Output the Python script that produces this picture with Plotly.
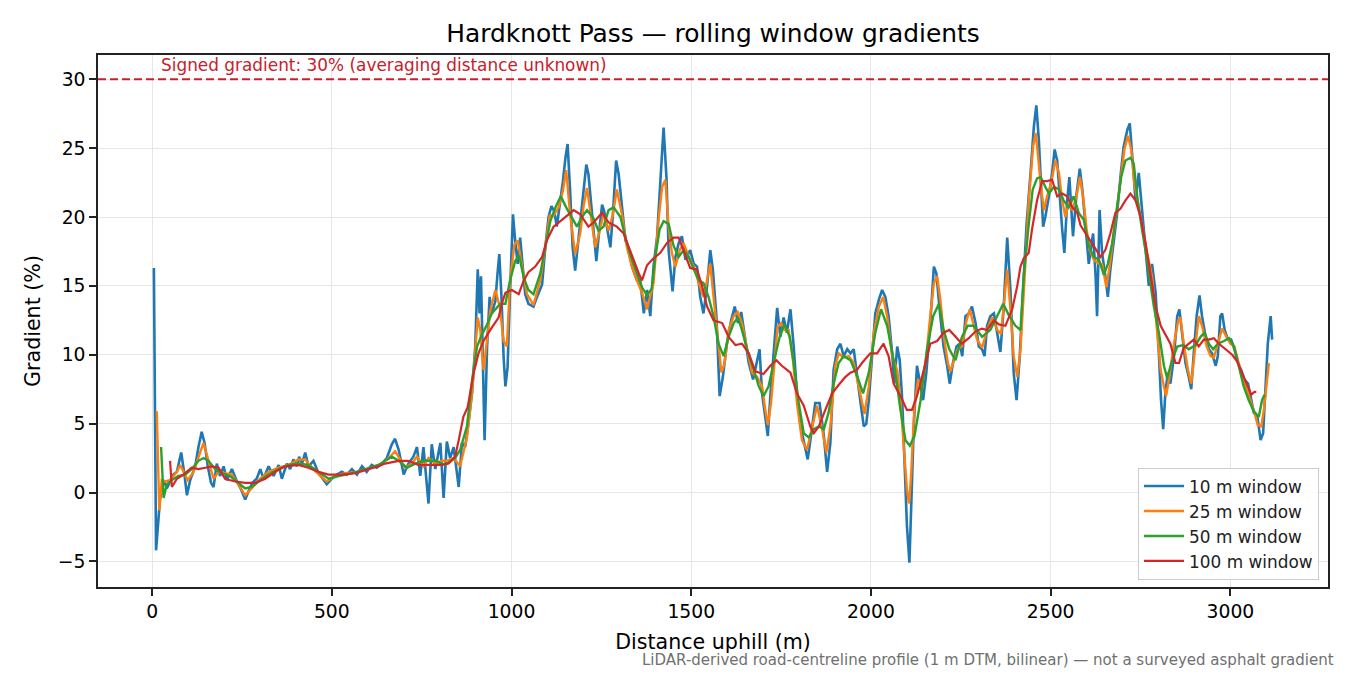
import plotly.graph_objects as go

# Hardknott Pass rolling-window gradient profiles
dist_10 = [5, 11, 22, 32, 41, 50, 59, 69, 81, 90, 97, 106, 120, 129, 138, 146, 155, 164, 171, 180,
           189, 199, 208, 222, 236, 248, 259, 270, 279, 291, 301, 310, 324, 338, 352, 361, 375, 384, 393, 403,
           409, 417, 426, 435, 449, 463, 477, 486, 500, 514, 528, 542, 556, 570, 584, 597, 611, 625, 639, 653,
           667, 676, 686, 700, 713, 727, 737, 746, 755, 769, 778, 788, 802, 811, 820, 829, 839, 853, 862, 871,
           880, 890, 899, 906, 911, 915, 920, 925, 932, 939, 945, 955, 961, 966, 972, 978, 983, 989, 996, 1004,
           1010, 1017, 1024, 1031, 1038, 1047, 1061, 1071, 1085, 1094, 1103, 1111, 1119, 1126, 1134, 1143, 1150, 1156, 1163, 1170,
           1177, 1184, 1191, 1199, 1208, 1214, 1224, 1230, 1236, 1242, 1252, 1258, 1266, 1275, 1282, 1291, 1298, 1307, 1317, 1326,
           1335, 1349, 1358, 1368, 1377, 1386, 1395, 1405, 1414, 1423, 1431, 1437, 1448, 1456, 1465, 1474, 1484, 1497, 1507, 1516,
           1525, 1534, 1544, 1553, 1560, 1570, 1579, 1588, 1599, 1611, 1621, 1630, 1639, 1649, 1660, 1672, 1678, 1690, 1697, 1703,
           1713, 1720, 1729, 1739, 1748, 1757, 1766, 1776, 1785, 1794, 1804, 1815, 1824, 1833, 1845, 1857, 1869, 1878, 1887, 1896,
           1906, 1915, 1924, 1934, 1943, 1952, 1961, 1971, 1980, 1987, 1994, 2003, 2012, 2022, 2031, 2040, 2049, 2059, 2065, 2073,
           2080, 2087, 2094, 2100, 2107, 2112, 2119, 2128, 2138, 2145, 2154, 2165, 2175, 2182, 2191, 2202, 2212, 2219, 2228, 2238,
           2247, 2254, 2263, 2272, 2281, 2291, 2300, 2309, 2316, 2323, 2332, 2342, 2351, 2360, 2369, 2379, 2388, 2397, 2405, 2414,
           2423, 2433, 2444, 2453, 2460, 2467, 2473, 2479, 2485, 2495, 2504, 2511, 2518, 2525, 2532, 2538, 2546, 2552, 2558, 2562,
           2572, 2581, 2588, 2597, 2606, 2613, 2618, 2625, 2629, 2636, 2643, 2652, 2659, 2666, 2676, 2685, 2694, 2703, 2713, 2720,
           2727, 2736, 2745, 2754, 2764, 2773, 2782, 2792, 2801, 2807, 2813, 2819, 2826, 2833, 2843, 2852, 2858, 2866, 2875, 2884,
           2891, 2898, 2906, 2914, 2921, 2931, 2940, 2949, 2959, 2965, 2972, 2977, 2984, 2993, 3002, 3011, 3021, 3030, 3039, 3049,
           3056, 3065, 3075, 3084, 3091, 3098, 3104, 3112, 3116]
grad_10 = [16.3, -4.2, -0.5, 0.9, 0.3, 0.8, 1.3, 1.5, 2.9, 1.3, -0.2, 0.9, 1.9, 3.3, 4.4, 3.6, 1.9, 0.7, 0.4, 2.1,
           1.2, 1.9, 0.9, 1.7, 0.8, 0.2, -0.5, 0.2, 0.7, 1.0, 1.7, 1.0, 1.9, 1.2, 2.0, 1.0, 2.1, 1.7, 2.4, 1.9,
           2.6, 2.1, 2.9, 1.9, 2.3, 1.4, 0.9, 0.6, 1.0, 1.3, 1.5, 1.3, 1.7, 1.3, 1.9, 1.5, 2.0, 1.8, 2.1, 2.5,
           3.5, 3.9, 3.1, 1.3, 2.1, 2.6, 3.3, 1.2, 3.3, -0.8, 3.5, 1.7, 3.6, -0.4, 3.7, 2.5, 3.3, 0.4, 3.6, 3.3,
           5.0, 7.2, 10.6, 16.2, 13.0, 15.7, 9.8, 3.8, 10.6, 14.2, 13.0, 13.9, 15.9, 17.3, 14.2, 9.8, 7.7, 9.1, 14.7, 20.2,
           18.3, 16.6, 18.5, 16.4, 14.4, 13.7, 13.5, 14.2, 15.1, 17.8, 20.0, 20.8, 20.4, 19.3, 20.7, 22.6, 24.3, 25.3, 21.9, 17.8,
           16.1, 17.8, 19.5, 21.4, 23.8, 23.1, 20.0, 18.3, 16.8, 18.5, 20.9, 20.4, 19.3, 17.8, 20.2, 24.1, 23.1, 20.7, 18.3, 17.6,
           16.4, 15.4, 15.4, 13.0, 14.7, 12.8, 16.4, 18.6, 22.9, 26.5, 22.9, 17.6, 14.6, 17.1, 18.1, 18.6, 16.9, 17.6, 16.6, 16.4,
           14.2, 13.0, 15.0, 17.6, 16.2, 12.8, 7.0, 8.4, 10.8, 12.5, 13.5, 12.3, 13.1, 11.3, 9.4, 8.2, 8.9, 10.4, 7.2, 6.0,
           4.1, 7.0, 10.4, 13.4, 11.3, 12.7, 11.6, 13.3, 10.6, 7.2, 4.8, 3.4, 2.4, 4.1, 6.5, 6.5, 4.1, 1.5, 3.6, 8.9,
           10.4, 10.8, 9.9, 10.4, 10.1, 10.4, 8.4, 6.5, 4.8, 5.0, 6.7, 10.1, 13.0, 14.0, 14.7, 14.2, 12.8, 10.1, 7.9, 10.6,
           9.6, 6.7, 1.9, -2.4, -5.1, -1.2, 4.8, 9.2, 7.7, 6.7, 8.7, 12.3, 16.4, 15.9, 13.3, 10.6, 9.2, 7.9, 9.4, 10.6,
           10.8, 9.9, 12.8, 13.0, 13.5, 12.3, 10.6, 10.4, 9.9, 12.1, 12.8, 13.0, 11.6, 10.2, 13.3, 18.5, 14.7, 8.7, 6.7, 9.9,
           14.7, 19.5, 23.2, 26.5, 28.1, 25.6, 22.4, 19.3, 20.0, 21.5, 23.2, 24.9, 24.1, 21.2, 19.1, 17.4, 21.2, 22.9, 20.0, 18.6,
           21.7, 23.5, 22.0, 19.1, 16.6, 17.9, 18.8, 15.7, 12.8, 20.5, 17.4, 15.7, 14.2, 16.2, 18.3, 20.3, 22.9, 25.1, 26.3, 26.8,
           24.4, 21.2, 23.2, 20.7, 17.5, 15.0, 16.6, 14.5, 10.1, 6.7, 4.6, 7.2, 8.7, 7.9, 9.9, 12.8, 13.3, 11.3, 9.4, 8.4,
           7.5, 10.1, 12.8, 14.3, 12.8, 11.3, 10.4, 10.1, 9.2, 9.9, 12.8, 13.0, 11.8, 11.1, 11.1, 10.4, 9.4, 8.9, 8.2, 7.9,
           7.0, 5.8, 5.5, 3.8, 4.3, 7.7, 10.8, 12.8, 11.1]

dist_25 = [13, 20, 27, 36, 50, 69, 78, 87, 99, 115, 129, 143, 157, 171, 185, 203, 222, 240, 259, 277,
           301, 324, 352, 379, 407, 426, 444, 468, 486, 509, 537, 574, 611, 639, 662, 676, 690, 704, 723, 737,
           755, 769, 788, 806, 820, 839, 857, 876, 890, 899, 906, 913, 922, 932, 941, 955, 967, 978, 987, 996,
           1008, 1017, 1029, 1043, 1061, 1080, 1094, 1106, 1117, 1131, 1143, 1152, 1163, 1177, 1191, 1201, 1210, 1221, 1233, 1245,
           1256, 1270, 1282, 1293, 1307, 1321, 1335, 1349, 1363, 1377, 1395, 1409, 1419, 1428, 1437, 1446, 1456, 1468, 1479, 1493,
           1507, 1521, 1534, 1544, 1553, 1562, 1573, 1584, 1593, 1604, 1618, 1629, 1641, 1655, 1669, 1683, 1697, 1706, 1713, 1722,
           1731, 1740, 1750, 1759, 1771, 1783, 1794, 1808, 1822, 1836, 1850, 1864, 1876, 1887, 1901, 1910, 1924, 1938, 1952, 1966,
           1982, 1994, 2008, 2022, 2034, 2045, 2059, 2073, 2082, 2091, 2100, 2106, 2112, 2121, 2131, 2142, 2154, 2165, 2175, 2184,
           2193, 2204, 2214, 2221, 2230, 2241, 2253, 2266, 2275, 2284, 2295, 2309, 2323, 2337, 2351, 2362, 2371, 2379, 2388, 2397,
           2407, 2416, 2427, 2439, 2451, 2458, 2465, 2472, 2481, 2490, 2501, 2513, 2523, 2532, 2541, 2550, 2560, 2572, 2581, 2590,
           2600, 2609, 2620, 2634, 2643, 2655, 2665, 2676, 2687, 2696, 2705, 2715, 2724, 2733, 2742, 2754, 2768, 2782, 2794, 2806,
           2815, 2821, 2829, 2843, 2855, 2861, 2870, 2882, 2891, 2900, 2912, 2921, 2934, 2945, 2954, 2965, 2977, 2989, 3000, 3011,
           3021, 3033, 3045, 3056, 3067, 3076, 3086, 3093, 3100, 3107]
grad_25 = [5.9, -1.3, 0.9, 0.8, 0.9, 1.5, 2.0, 1.5, 0.9, 1.5, 2.6, 3.6, 2.3, 1.0, 1.5, 1.4, 1.3, 0.6, -0.2, 0.3,
           1.0, 1.5, 1.8, 2.0, 2.4, 2.4, 1.8, 1.2, 0.8, 1.2, 1.4, 1.5, 1.8, 2.1, 2.6, 3.0, 2.4, 1.8, 2.1, 2.6,
           1.9, 2.5, 2.1, 2.3, 2.3, 2.5, 1.9, 4.0, 7.2, 10.6, 12.7, 11.8, 8.9, 11.1, 13.2, 14.7, 13.5, 11.0, 10.6, 15.4,
           18.0, 18.3, 16.4, 14.4, 13.6, 15.4, 17.8, 20.1, 20.1, 20.7, 21.9, 23.4, 20.2, 17.3, 18.8, 20.9, 22.1, 20.0, 17.8, 19.0,
           20.2, 19.0, 20.2, 22.0, 20.2, 17.8, 16.4, 15.4, 14.5, 13.3, 15.2, 19.8, 22.2, 22.7, 19.3, 17.4, 16.4, 17.6, 18.1, 17.1,
           16.4, 15.2, 14.2, 15.4, 16.6, 14.2, 11.3, 8.7, 9.4, 11.8, 12.8, 13.1, 12.3, 10.4, 8.7, 8.4, 7.7, 6.0, 4.9, 6.5,
           9.6, 12.0, 12.3, 11.8, 11.8, 9.6, 6.5, 3.8, 3.1, 4.6, 6.3, 4.6, 2.9, 4.8, 9.2, 10.1, 9.8, 9.9, 9.4, 7.7,
           5.7, 7.7, 11.6, 13.5, 14.2, 12.8, 9.9, 8.9, 6.7, 3.4, 0.2, -0.8, 1.4, 6.3, 8.2, 7.7, 9.9, 12.8, 15.2, 15.7,
           14.0, 11.1, 9.4, 8.8, 9.6, 10.4, 10.6, 12.5, 13.3, 12.3, 11.1, 10.5, 11.8, 12.7, 11.8, 11.5, 14.0, 16.2, 13.3, 9.9,
           8.4, 10.4, 15.4, 21.2, 25.1, 26.1, 24.4, 22.4, 20.5, 21.5, 22.4, 24.1, 23.2, 21.2, 20.0, 21.0, 20.5, 21.5, 22.9, 21.5,
           19.1, 17.6, 16.9, 16.6, 16.6, 14.9, 16.6, 18.8, 21.0, 23.2, 24.9, 25.9, 24.9, 22.4, 21.2, 19.5, 17.4, 15.7, 12.3, 8.9,
           7.7, 7.0, 8.2, 10.8, 12.5, 12.7, 10.8, 8.9, 7.9, 10.1, 12.8, 12.1, 10.6, 9.9, 9.8, 10.8, 11.9, 11.3, 10.8, 10.6,
           9.6, 8.4, 7.5, 6.7, 5.8, 4.9, 4.8, 6.0, 7.7, 9.4]

dist_50 = [25, 32, 41, 55, 73, 92, 110, 129, 143, 157, 175, 194, 217, 240, 259, 277, 301, 324, 352, 379,
           407, 435, 463, 491, 519, 556, 593, 630, 667, 686, 709, 732, 760, 788, 815, 843, 857, 876, 890, 904,
           918, 932, 945, 955, 969, 983, 996, 1010, 1021, 1034, 1047, 1061, 1080, 1094, 1108, 1122, 1137, 1152, 1168, 1182,
           1196, 1210, 1226, 1242, 1256, 1270, 1284, 1303, 1317, 1330, 1349, 1363, 1377, 1390, 1400, 1412, 1423, 1437, 1451, 1465,
           1479, 1493, 1507, 1521, 1534, 1548, 1562, 1576, 1590, 1604, 1618, 1630, 1641, 1655, 1674, 1688, 1701, 1715, 1729, 1746,
           1759, 1774, 1785, 1799, 1813, 1827, 1841, 1855, 1869, 1882, 1896, 1910, 1924, 1943, 1961, 1978, 1994, 2012, 2028, 2045,
           2063, 2082, 2096, 2108, 2121, 2138, 2156, 2173, 2189, 2202, 2218, 2235, 2253, 2269, 2286, 2309, 2332, 2351, 2368, 2383,
           2402, 2416, 2425, 2439, 2450, 2462, 2472, 2485, 2495, 2509, 2523, 2536, 2550, 2564, 2578, 2592, 2606, 2620, 2634, 2648,
           2659, 2671, 2685, 2696, 2708, 2722, 2731, 2742, 2754, 2768, 2787, 2801, 2815, 2824, 2838, 2852, 2869, 2884, 2903, 2917,
           2928, 2940, 2952, 2965, 2982, 2996, 3010, 3024, 3037, 3051, 3065, 3079, 3088, 3095]
grad_50 = [3.3, -0.4, 0.6, 0.9, 1.2, 1.3, 1.7, 2.3, 2.5, 2.3, 1.7, 1.4, 1.2, 0.7, 0.3, 0.4, 0.9, 1.3, 1.7, 2.0,
           2.1, 2.0, 1.5, 1.0, 1.2, 1.4, 1.7, 2.0, 2.6, 2.3, 1.8, 2.1, 2.3, 2.3, 2.0, 2.5, 3.1, 4.8, 8.1, 10.6,
           11.5, 12.2, 13.0, 13.3, 13.7, 13.7, 15.4, 16.8, 17.2, 15.6, 14.7, 14.4, 15.9, 17.8, 19.7, 20.7, 21.5, 20.7, 20.0, 19.3,
           20.0, 20.5, 20.0, 19.0, 19.3, 20.5, 20.7, 20.0, 18.5, 17.3, 15.9, 14.9, 14.3, 14.8, 17.1, 19.1, 19.7, 19.5, 17.9, 17.1,
           17.6, 17.1, 16.2, 15.4, 15.2, 14.2, 12.8, 10.8, 9.9, 11.3, 12.3, 12.7, 11.8, 10.4, 8.9, 7.7, 7.0, 7.7, 9.4, 11.3,
           12.2, 11.3, 9.4, 6.5, 4.3, 4.0, 4.6, 4.8, 4.6, 5.8, 7.9, 9.4, 9.9, 9.6, 8.5, 7.2, 8.7, 11.6, 13.3, 12.1,
           9.6, 6.0, 3.8, 3.4, 4.1, 6.7, 10.4, 12.8, 13.7, 11.8, 10.4, 9.6, 11.3, 12.1, 12.1, 11.3, 11.8, 12.8, 13.7, 12.9,
           12.1, 11.8, 15.7, 19.5, 22.0, 22.8, 22.9, 22.2, 21.7, 22.2, 22.0, 21.2, 20.7, 21.5, 20.3, 19.8, 17.9, 17.1, 16.9, 15.8,
           16.6, 18.1, 20.7, 22.9, 24.1, 24.3, 23.9, 21.2, 19.1, 16.9, 13.5, 11.6, 9.2, 8.3, 9.6, 10.6, 10.7, 10.4, 10.7, 11.3,
           11.6, 10.8, 10.4, 10.8, 11.0, 11.2, 10.6, 9.2, 7.7, 6.7, 5.9, 5.5, 6.7, 7.1]

dist_100 = [50, 55, 69, 87, 110, 129, 148, 166, 185, 203, 231, 259, 287, 315, 342, 370, 407, 435, 463, 491,
            528, 565, 602, 630, 648, 686, 713, 741, 778, 806, 825, 843, 853, 866, 878, 894, 908, 922, 941, 964,
            973, 983, 1001, 1020, 1034, 1047, 1066, 1085, 1098, 1117, 1136, 1154, 1173, 1191, 1205, 1214, 1228, 1252, 1270, 1293,
            1312, 1326, 1340, 1354, 1363, 1377, 1395, 1414, 1432, 1451, 1465, 1479, 1497, 1516, 1530, 1544, 1562, 1586, 1604, 1623,
            1641, 1660, 1678, 1701, 1720, 1737, 1752, 1776, 1794, 1813, 1831, 1841, 1855, 1873, 1892, 1910, 1929, 1943, 1961, 1975,
            1998, 2017, 2035, 2049, 2063, 2082, 2100, 2114, 2128, 2147, 2165, 2184, 2202, 2218, 2235, 2253, 2272, 2291, 2309, 2323,
            2342, 2356, 2374, 2393, 2407, 2416, 2425, 2439, 2448, 2462, 2476, 2490, 2504, 2518, 2532, 2546, 2560, 2574, 2583, 2597,
            2611, 2625, 2639, 2652, 2666, 2680, 2694, 2708, 2722, 2736, 2750, 2764, 2778, 2792, 2806, 2819, 2833, 2847, 2857, 2870,
            2884, 2898, 2912, 2926, 2940, 2954, 2968, 2986, 3005, 3019, 3033, 3047, 3058, 3067, 3072]
grad_100 = [2.3, 0.4, 1.0, 1.3, 1.8, 1.7, 1.8, 1.9, 1.8, 1.0, 0.8, 0.7, 0.7, 1.0, 1.5, 1.9, 2.0, 1.8, 1.5, 1.3,
            1.3, 1.4, 1.7, 1.9, 2.1, 2.3, 2.3, 2.0, 2.0, 2.0, 2.1, 2.6, 3.8, 5.5, 6.2, 8.6, 10.1, 11.0, 11.8, 12.7,
            13.7, 14.5, 14.7, 14.4, 15.4, 16.0, 16.4, 17.1, 18.3, 19.3, 19.7, 20.1, 20.5, 20.2, 19.7, 19.3, 19.6, 20.3, 19.6, 19.3,
            18.8, 17.8, 16.8, 15.9, 15.4, 16.5, 17.0, 17.4, 18.1, 18.5, 18.5, 17.6, 16.3, 16.2, 15.0, 13.5, 12.5, 12.3, 11.3, 10.7,
            10.8, 10.1, 8.8, 8.6, 9.2, 9.6, 9.2, 8.7, 7.2, 6.3, 4.8, 4.3, 4.8, 6.0, 7.2, 7.8, 8.4, 8.7, 8.9, 9.4,
            10.1, 10.1, 10.8, 9.9, 7.9, 7.0, 6.0, 6.0, 7.0, 8.9, 10.8, 11.0, 11.6, 11.8, 11.3, 10.8, 11.2, 11.7, 11.9, 11.8,
            12.5, 12.2, 12.1, 13.3, 15.0, 16.4, 17.0, 17.4, 19.1, 21.2, 22.6, 22.6, 22.7, 21.5, 21.7, 21.5, 20.7, 20.3, 19.4, 18.8,
            18.3, 17.6, 17.1, 17.6, 18.8, 20.3, 20.6, 21.2, 21.7, 21.2, 20.0, 18.1, 15.7, 13.5, 12.1, 11.5, 10.8, 9.4, 9.4, 10.5,
            10.8, 11.1, 10.6, 11.1, 11.1, 11.2, 10.8, 10.4, 10.0, 9.5, 8.6, 7.7, 7.1, 7.3, 7.3]

series_names = ["10 m window", "25 m window", "50 m window", "100 m window"]
series_colors = ["#1f77b4", "#ff7f0e", "#2ca02c", "#d62728"]
series_widths = [2.6, 2.4, 2.4, 2.2]

signed_gradient = 30
x_ticks = [0, 500, 1000, 1500, 2000, 2500, 3000]
y_ticks = [-5, 0, 5, 10, 15, 20, 25, 30]

FONT = "DejaVu Sans"
sign_red = "#c8202c"

fig = go.Figure()
for name, xs, ys, col, w in zip(series_names,
                                [dist_10, dist_25, dist_50, dist_100],
                                [grad_10, grad_25, grad_50, grad_100],
                                series_colors, series_widths):
    fig.add_trace(go.Scatter(x=xs, y=ys, mode="lines", name=name,
                             line=dict(color=col, width=w)))

# signed gradient reference line + label
fig.add_hline(y=signed_gradient, line=dict(color=sign_red, width=1.8, dash="8px,4px"))
fig.add_annotation(x=20, y=signed_gradient, xref="x", yref="y",
                   text="Signed gradient: 30% (averaging distance unknown)",
                   showarrow=False, xanchor="left", yanchor="bottom", yshift=2,
                   font=dict(family=FONT, size=16.9, color=sign_red))

fig.add_annotation(x=1.0065, y=-0.137, xref="paper", yref="paper",
                   text="LiDAR-derived road-centreline profile (1 m DTM, bilinear) — not a surveyed asphalt gradient",
                   showarrow=False, xanchor="right", yanchor="middle",
                   font=dict(family=FONT, size=15, color="#707070"))

axis_common = dict(showline=True, linecolor="#222222", linewidth=1.5, mirror=True,
                   ticks="outside", ticklen=7, tickwidth=1.5, tickcolor="#222222",
                   showgrid=True, gridcolor="#e6e6e6", gridwidth=1.4, zeroline=False,
                   tickfont=dict(family=FONT, size=18.75, color="black"))

fig.update_xaxes(range=[-150.5, 3271.5], tickvals=x_ticks,
                 title=dict(text="Distance uphill (m)", standoff=13,
                            font=dict(family=FONT, size=20.6, color="black")),
                 **axis_common)
fig.update_yaxes(range=[-6.86, 31.76], tickvals=y_ticks,
                 title=dict(text="Gradient (%)", standoff=12,
                            font=dict(family=FONT, size=20.6, color="black")),
                 **axis_common)

fig.update_layout(
    width=1350, height=675,
    margin=dict(l=98, r=22, t=55, b=88, autoexpand=False),
    paper_bgcolor="white", plot_bgcolor="white",
    font=dict(family=FONT, color="black"),
    title=dict(text="Hardknott Pass — rolling window gradients", x=0.5, xref="paper",
               y=1 - 33 / 675, yanchor="middle",
               font=dict(family=FONT, size=24.9, color="black")),
    legend=dict(x=0.9927, y=0.014, xanchor="right", yanchor="bottom", itemwidth=40,
                bgcolor="rgba(255,255,255,0.85)", bordercolor="#cccccc", borderwidth=1,
                font=dict(family=FONT, size=16.9, color="#222222")),
    showlegend=True,
)

# page body has a default 8px margin; drop it so the figure sits at the window origin
fig.write_html("out.html", config={"displayModeBar": False},
               post_script="document.body.style.margin='0';")
